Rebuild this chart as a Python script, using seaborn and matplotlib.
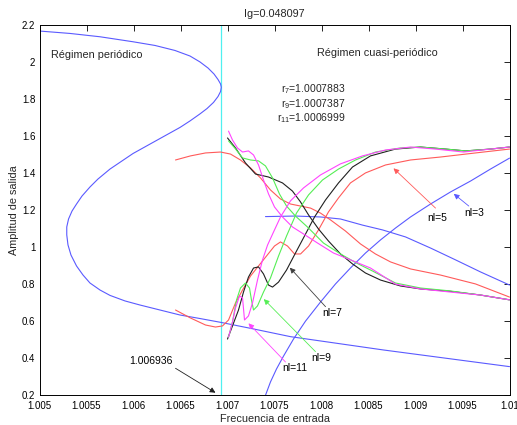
import matplotlib
matplotlib.use("Agg")
import matplotlib.pyplot as plt
import seaborn as sns
import pandas as pd

# ---------------- data ----------------
title_text = "Ig=0.048097"
xticks = [1.005, 1.0055, 1.006, 1.0065, 1.007, 1.0075, 1.008, 1.0085, 1.009, 1.0095, 1.01]
xtick_labels = ["1.005", "1.0055", "1.006", "1.0065", "1.007", "1.0075", "1.008", "1.0085", "1.009", "1.0095", "1.01"]
yticks = [0.2, 0.4, 0.6, 0.8, 1.0, 1.2, 1.4, 1.6, 1.8, 2.0, 2.2]
ytick_labels = ["0.2", "0.4", "0.6", "0.8", "1", "1.2", "1.4", "1.6", "1.8", "2", "2.2"]
vline_x = 1.006936

# nl=3 periodic branch
b1_x = [1.005, 1.005324, 1.005644, 1.005995, 1.006229, 1.006441, 1.006601, 1.006707, 1.006793, 1.006856,
        1.006899, 1.006926, 1.006934,
        1.006926, 1.006899, 1.006851, 1.006782, 1.006707, 1.006601, 1.006495, 1.006282, 1.005995, 1.00575,
        1.005622, 1.005537, 1.005452, 1.005394, 1.005346, 1.005309, 1.00529, 1.00529, 1.005303, 1.005335,
        1.005394, 1.005463, 1.005537, 1.005644, 1.00575, 1.00591, 1.006069, 1.006282, 1.006495, 1.006707,
        1.006931, 1.007245, 1.00767, 1.008659, 1.01]
b1_y = [2.169, 2.156, 2.138, 2.111, 2.091, 2.064, 2.034, 2.002, 1.969, 1.937,
        1.907, 1.883, 1.865,
        1.842, 1.815, 1.783, 1.750, 1.721, 1.683, 1.648, 1.588, 1.507, 1.423,
        1.369, 1.326, 1.277, 1.234, 1.196, 1.153, 1.110, 1.067, 1.013, 0.958,
        0.899, 0.850, 0.807, 0.769, 0.740, 0.710, 0.688, 0.661, 0.634, 0.615,
        0.594, 0.562, 0.517, 0.445, 0.355]
# nl=3 quasi-periodic branches
b2_x = [1.007404, 1.007723, 1.007989, 1.008202, 1.008436, 1.008649, 1.008894, 1.00916, 1.009426, 1.009691, 1.01]
b2_y = [1.166, 1.169, 1.164, 1.153, 1.12, 1.094, 1.056, 0.996, 0.932, 0.867, 0.796]
b3_x = [1.007404, 1.007457, 1.007521, 1.007596, 1.007702, 1.00783, 1.007989, 1.008149, 1.008308, 1.008468,
        1.008628, 1.008787, 1.008947, 1.00916, 1.009372, 1.009585, 1.009798, 1.01]
b3_y = [0.2, 0.272, 0.342, 0.412, 0.504, 0.601, 0.704, 0.802, 0.888, 0.969,
        1.04, 1.104, 1.164, 1.234, 1.299, 1.358, 1.423, 1.482]

# nl=5
r1_x = [1.006447, 1.006606, 1.006766, 1.006926, 1.007032, 1.007138, 1.007245, 1.007351, 1.007457, 1.007564,
        1.00767, 1.007777, 1.007883, 1.007989, 1.008096, 1.008255, 1.008415, 1.008574, 1.008734, 1.008947,
        1.009266, 1.009638, 1.01]
r1_y = [1.472, 1.494, 1.51, 1.515, 1.504, 1.472, 1.429, 1.375, 1.31, 1.261,
        1.234, 1.223, 1.212, 1.185, 1.148, 1.088, 1.018, 0.964, 0.921, 0.883,
        0.85, 0.802, 0.731]
r2_x = [1.006447, 1.006606, 1.006766, 1.006872, 1.006947, 1.007011, 1.007085, 1.00716, 1.007245, 1.00733,
        1.007415, 1.0075, 1.007564, 1.007638, 1.007713, 1.007777, 1.007862, 1.007968, 1.008074, 1.008181,
        1.008308, 1.008468, 1.008681, 1.008947, 1.009266, 1.009638, 1.01]
r2_y = [0.661, 0.618, 0.58, 0.569, 0.575, 0.607, 0.699, 0.769, 0.845, 0.899,
        0.953, 1.007, 1.029, 1.007, 0.964, 0.964, 1.007, 1.094, 1.191, 1.267,
        1.348, 1.402, 1.445, 1.472, 1.488, 1.51, 1.531]

# nl=7
k1_x = [1.007, 1.007085, 1.007191, 1.007298, 1.007436, 1.007585, 1.007691, 1.007777, 1.007862, 1.007968,
        1.008074, 1.008202, 1.00833, 1.008468, 1.008628, 1.00884, 1.009053, 1.009372, 1.009691, 1.01]
k1_y = [1.591, 1.537, 1.456, 1.396, 1.38, 1.348, 1.304, 1.245, 1.175, 1.099,
        1.034, 0.964, 0.91, 0.861, 0.823, 0.791, 0.775, 0.762, 0.742, 0.716]
k2_x = [1.007, 1.007053, 1.007117, 1.00717, 1.007223, 1.007277, 1.00733, 1.007383, 1.007436, 1.007479,
        1.007543, 1.007628, 1.007723, 1.007819, 1.007926, 1.008043, 1.008181, 1.00833, 1.008521, 1.008787,
        1.009053, 1.009319, 1.009532, 1.009798, 1.01]
k2_y = [0.504, 0.575, 0.661, 0.758, 0.839, 0.888, 0.894, 0.856, 0.796, 0.785,
        0.812, 0.877, 0.969, 1.061, 1.164, 1.256, 1.348, 1.434, 1.494, 1.531,
        1.542, 1.531, 1.521, 1.531, 1.542]

# nl=9
g1_x = [1.007011, 1.007085, 1.00716, 1.007245, 1.00733, 1.007404, 1.007479, 1.007553, 1.007628, 1.007723,
        1.00785, 1.008021, 1.008202, 1.008372, 1.008542, 1.008787, 1.009053, 1.009372, 1.009691, 1.01]
g1_y = [1.575, 1.532, 1.483, 1.472, 1.467, 1.44, 1.375, 1.288, 1.223, 1.169,
        1.11, 1.023, 0.964, 0.915, 0.872, 0.807, 0.78, 0.764, 0.742, 0.716]
g2_x = [1.007011, 1.007053, 1.007096, 1.007138, 1.007191, 1.007234, 1.007255, 1.007277, 1.007319, 1.007383,
        1.007457, 1.007543, 1.007628, 1.007734, 1.007862, 1.008011, 1.008181, 1.008362, 1.008574, 1.00884,
        1.009053, 1.009319, 1.009532, 1.009798, 1.01]
g2_y = [0.515, 0.596, 0.715, 0.78, 0.807, 0.78, 0.715, 0.661, 0.683, 0.758,
        0.834, 0.953, 1.061, 1.185, 1.283, 1.364, 1.423, 1.472, 1.515, 1.537,
        1.542, 1.531, 1.521, 1.531, 1.542]

# nl=11
m1_x = [1.007011, 1.007053, 1.007106, 1.00716, 1.007223, 1.007277, 1.00733, 1.007383, 1.007436, 1.0075,
        1.007585, 1.007691, 1.007809, 1.007958, 1.008128, 1.008309, 1.008521, 1.008787, 1.009053, 1.009372,
        1.009691, 1.01]
m1_y = [1.628, 1.58, 1.537, 1.515, 1.521, 1.499, 1.445, 1.364, 1.289, 1.218,
        1.164, 1.11, 1.072, 1.023, 0.969, 0.932, 0.888, 0.801, 0.775, 0.758,
        0.742, 0.716]
m2_x = [1.007011, 1.007053, 1.007085, 1.007128, 1.00716, 1.007181, 1.007223, 1.007266, 1.007319, 1.007372,
        1.007426, 1.00749, 1.007564, 1.00767, 1.007809, 1.007989, 1.008202, 1.008436, 1.008681, 1.008947,
        1.009213, 1.009511, 1.009798, 1.01]
m2_y = [0.515, 0.596, 0.672, 0.737, 0.726, 0.607, 0.629, 0.699, 0.823, 0.931,
        1.012, 1.083, 1.164, 1.251, 1.321, 1.391, 1.451, 1.494, 1.526, 1.542,
        1.531, 1.515, 1.531, 1.542]

# annotations
ann_labels = ["1.006936", "nl=3", "nl=5", "nl=7", "nl=9", "nl=11"]
ann_text_x = [1.006181, 1.009628, 1.009231, 1.008114, 1.008, 1.007713]
ann_text_y = [0.387, 1.184, 1.157, 0.643, 0.40, 0.346]
ann_tail_x = [1.006447, 1.009567, 1.009213, 1.008043, 1.007936, 1.007617]
ann_tail_y = [0.346, 1.223, 1.212, 0.679, 0.436, 0.38]
ann_tip_x = [1.006872, 1.009407, 1.008766, 1.007663, 1.007386, 1.007223]
ann_tip_y = [0.214, 1.289, 1.427, 0.890, 0.72, 0.589]

r_labels = [r"r$_7$=1.0007883", r"r$_9$=1.0007387", r"r$_{11}$=1.0006999"]
r_x = 1.008255
r_y = [1.854, 1.775, 1.697]

# ---------------- style ----------------
sns.set_style("white")
plt.rcParams["font.family"] = ["Liberation Sans", "DejaVu Sans"]
plt.rcParams["mathtext.fontset"] = "custom"
plt.rcParams["mathtext.rm"] = "Liberation Sans"
plt.rcParams["mathtext.it"] = "Liberation Sans"

C_BLUE = "#5a5aff"
C_RED = "#ff5a5a"
C_GREEN = "#55ee55"
C_MAG = "#ff44ff"
C_BLACK = "#202020"
C_CYAN = "#4ff0f0"
LW = 0.8

fig = plt.figure(figsize=(5.17, 4.25), dpi=100)
ax = fig.add_axes([39.5 / 517, 1 - 395.3 / 425, 470 / 517, 370 / 425])

ax.axvline(vline_x, color=C_CYAN, lw=0.9, zorder=1)

curves = [
    (b1_x, b1_y, C_BLUE), (b2_x, b2_y, C_BLUE), (b3_x, b3_y, C_BLUE),
    (r1_x, r1_y, C_RED), (r2_x, r2_y, C_RED),
    (k1_x, k1_y, C_BLACK), (k2_x, k2_y, C_BLACK),
    (g1_x, g1_y, C_GREEN), (g2_x, g2_y, C_GREEN),
    (m1_x, m1_y, C_MAG), (m2_x, m2_y, C_MAG),
]
for cx, cy, col in curves:
    df = pd.DataFrame({"x": cx, "y": cy})
    sns.lineplot(data=df, x="x", y="y", sort=False, estimator=None, color=col, lw=LW, ax=ax)

ann_colors = [C_BLACK, C_BLUE, C_RED, "#404040", C_GREEN, C_MAG]
for lab, tx, ty, ax0, ay0, ax1, ay1, col in zip(ann_labels, ann_text_x, ann_text_y,
                                                 ann_tail_x, ann_tail_y, ann_tip_x, ann_tip_y, ann_colors):
    ax.annotate("", xy=(ax1, ay1), xytext=(ax0, ay0),
                arrowprops=dict(arrowstyle="-|>", color=col, lw=0.6, mutation_scale=8, shrinkA=0, shrinkB=0))
    ax.text(tx, ty, lab, ha="center", va="center", fontsize=7.5, color="black")

for lab, yy in zip(r_labels, r_y):
    ax.text(r_x, yy, lab, ha="right", va="center", fontsize=7.5)

ax.text(1.00512, 2.04, "Régimen periódico", ha="left", va="center", fontsize=7.8)
ax.text(1.00795, 2.052, "Régimen cuasi-periódico", ha="left", va="center", fontsize=7.8)

ax.set_xlim(1.005, 1.01)
ax.set_ylim(0.2, 2.2)
ax.set_xticks(xticks)
ax.set_xticklabels(xtick_labels)
ax.set_yticks(yticks)
ax.set_yticklabels(ytick_labels)
ax.tick_params(direction="in", length=4, width=0.6, top=True, right=True, labelsize=7, pad=3, colors="black")
ax.tick_params(axis="x", pad=4)
for s in ax.spines.values():
    s.set_color("black")
    s.set_linewidth(0.7)
ax.set_xlabel("Frecuencia de entrada", fontsize=7.8, labelpad=2)
ax.set_ylabel("Amplitud de salida", fontsize=7.8, labelpad=2)
ax.set_title(title_text, fontsize=7.8, pad=6)

fig.savefig("out.png", dpi=100)
